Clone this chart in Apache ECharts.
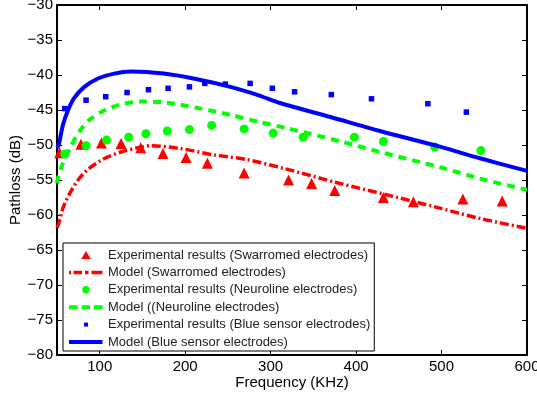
<!DOCTYPE html>
<html>
<head>
<meta charset="utf-8">
<script src="https://cdn.jsdelivr.net/npm/echarts@6/dist/echarts.min.js"></script>
<style>
  html, body { margin: 0; padding: 0; background: #fff; }
  #chart { width: 537px; height: 396px; }
</style>
</head>
<body>
<div id="chart"></div>
<script>
// measured values (frequency in kHz, pathloss in dB)
const xTicks = [100, 200, 300, 400, 500, 600];

const swarExpX = [53, 78, 102, 125, 148, 174, 201, 226, 269, 321, 348, 375, 432, 467, 525, 571];
const swarExpY = [-51.1, -49.9, -49.7, -49.8, -50.4, -51.2, -51.8, -52.6, -54.0, -55.0, -55.5, -56.5, -57.5, -58.1, -57.7, -58.0];

const swarModX = [50, 52, 57, 65, 76, 88, 106, 125, 148, 159, 194, 233, 273, 317, 378, 432, 491, 545, 600];
const swarModY = [-61.8, -61.2, -59.0, -56.9, -54.8, -53.3, -51.9, -51.0, -50.3, -50.1, -50.5, -51.4, -52.1, -53.4, -55.4, -57.0, -58.8, -60.5, -61.9];

const neuroExpX = [59, 84, 108, 134, 154, 179, 205, 231, 269, 303, 338, 398, 432, 492, 546];
const neuroExpY = [-51.3, -50.1, -49.3, -48.9, -48.4, -48.0, -47.8, -47.2, -47.7, -48.3, -48.9, -48.9, -49.5, -50.3, -50.8];

const neuroModX = [50, 51, 56, 65, 76, 88, 106, 125, 148, 175, 214, 253, 286, 319, 382, 428, 499, 545, 600];
const neuroModY = [-55.5, -54.8, -52.9, -50.5, -48.1, -46.4, -45.0, -44.2, -43.8, -43.9, -44.7, -45.7, -46.7, -47.6, -49.5, -51.0, -53.2, -54.8, -56.4];

const blueExpX = [59, 84, 107, 132, 157, 180, 205, 223, 247, 276, 302, 328, 371, 418, 484, 529];
const blueExpY = [-44.8, -43.6, -43.1, -42.5, -42.1, -41.9, -41.7, -41.2, -41.3, -41.2, -41.9, -42.4, -42.8, -43.4, -44.1, -45.3];

const blueModX = [50, 52, 57, 63, 70, 82, 98, 117, 136, 175, 214, 253, 286, 311, 370, 428, 500, 545, 600];
const blueModY = [-50.4, -50.0, -47.1, -45.0, -43.3, -41.7, -40.5, -39.8, -39.5, -39.8, -40.6, -41.7, -42.9, -44.0, -46.0, -48.0, -50.3, -51.9, -53.7];

const names = [
    'Experimental results (Swarromed electrodes)',
    'Model (Swarromed electrodes)',
    'Experimental results (Neuroline electrodes)',
    'Model ((Neuroline electrodes)',
    'Experimental results (Blue sensor electrodes)',
    'Model (Blue sensor electrodes)'
];

const zip = (xs, ys) => xs.map((x, i) => [x, ys[i]]);
const FONT = 'Liberation Sans, Arial, Helvetica, sans-serif';
const minus = v => String(v).replace('-', '\u2212');

const RED = '#ff0000', GREEN = '#00ff00', BLUE = '#0000ff';

// legend icons, drawn in a 34x11 box so they are not stretched
const BOX = 'path://M0,0M34,11';
const iconTriangle = BOX + 'M17,1.5L21.8,9.5L12.2,9.5Z';
const iconCircle = BOX + 'M13.3,5.5a3.7,3.7 0 1,0 7.4,0a3.7,3.7 0 1,0 -7.4,0Z';
const iconSquare = BOX + 'M15,3.5h4v4h-4Z';
const iconDashDot = BOX + 'M0,3.8h2v3.5h-2ZM4.5,3.8h8.5v3.5h-8.5ZM16,3.8h3.5v3.5h-3.5ZM22.5,3.8h11v3.5h-11Z';
const iconDashed = BOX + 'M0,3.5h8.7v4h-8.7ZM12.7,3.5h8.3v4h-8.3ZM25,3.5h8.5v4h-8.5Z';
const iconSolid = BOX + 'M0,3.5h33.5v4h-33.5Z';

const chart = echarts.init(document.getElementById('chart'), null, { renderer: 'canvas' });

const frameAxis = {
    axisLine: { show: true, onZero: false, lineStyle: { color: '#000', width: 2 } },
    splitLine: { show: false },
};

chart.setOption({
    animation: false,
    backgroundColor: '#fff',
    textStyle: { fontFamily: FONT, color: '#000' },
    grid: { left: 57, right: 10, top: 5, bottom: 41, containLabel: false, outerBoundsMode: 'none' },
    legend: {
        orient: 'vertical',
        left: 63,
        top: 243,
        backgroundColor: '#fff',
        borderColor: '#000',
        borderWidth: 1,
        borderRadius: 0,
        padding: [5.5, 4, 2.5, 6],
        itemWidth: 34,
        itemHeight: 11,
        itemGap: 4.4,
        symbolKeepAspect: true,
        textStyle: { fontFamily: FONT, fontSize: 13, color: '#222' },
        data: [
            { name: names[0], icon: iconTriangle },
            { name: names[1], icon: iconDashDot },
            { name: names[2], icon: iconCircle },
            { name: names[3], icon: iconDashed },
            { name: names[4], icon: iconSquare },
            { name: names[5], icon: iconSolid }
        ]
    },
    xAxis: [
        Object.assign({
            type: 'value', min: 50, max: 600, position: 'bottom',
            name: 'Frequency (KHz)', nameLocation: 'middle', nameGap: 20, nameMoveOverlap: false,
            nameTextStyle: { fontFamily: FONT, fontSize: 15, color: '#000' },
            axisTick: { show: true, inside: true, length: 5, customValues: xTicks, lineStyle: { color: '#000', width: 1 } },
            axisLabel: { customValues: xTicks, fontFamily: FONT, fontSize: 15, color: '#000', margin: 4 }
        }, frameAxis),
        Object.assign({
            type: 'value', min: 50, max: 600, position: 'top',
            axisTick: { show: true, inside: true, length: 5, customValues: xTicks, lineStyle: { color: '#000', width: 1 } },
            axisLabel: { show: false }
        }, frameAxis)
    ],
    yAxis: [
        Object.assign({
            type: 'value', min: -80, max: -30, interval: 5, position: 'left',
            name: 'Pathloss (dB)', nameLocation: 'middle', nameGap: 34, nameMoveOverlap: false,
            nameTextStyle: { fontFamily: FONT, fontSize: 15, color: '#000' },
            axisTick: { show: true, inside: true, length: 5, lineStyle: { color: '#000', width: 1 } },
            axisLabel: { formatter: minus, fontFamily: FONT, fontSize: 15, color: '#000', margin: 4 }
        }, frameAxis),
        Object.assign({
            type: 'value', min: -80, max: -30, interval: 5, position: 'right',
            axisTick: { show: true, inside: true, length: 5, lineStyle: { color: '#000', width: 1 } },
            axisLabel: { show: false }
        }, frameAxis)
    ],
    series: [
        {
            name: names[0], type: 'scatter', data: zip(swarExpX, swarExpY),
            symbol: 'triangle', symbolSize: 11, itemStyle: { color: RED, opacity: 1 }, z: 3
        },
        {
            name: names[1], type: 'line', data: zip(swarModX, swarModY),
            showSymbol: false, symbol: 'none', smooth: 0.3,
            lineStyle: { color: RED, width: 3.5, type: [9, 3, 2, 3] },
            itemStyle: { color: RED }, z: 2
        },
        {
            name: names[2], type: 'scatter', data: zip(neuroExpX, neuroExpY),
            symbol: 'circle', symbolSize: 9, itemStyle: { color: GREEN, opacity: 1 }, z: 3
        },
        {
            name: names[3], type: 'line', data: zip(neuroModX, neuroModY),
            showSymbol: false, symbol: 'none', smooth: 0.3,
            lineStyle: { color: GREEN, width: 4, type: [8, 6] },
            itemStyle: { color: GREEN }, z: 2
        },
        {
            name: names[4], type: 'scatter', data: zip(blueExpX, blueExpY),
            symbol: 'rect', symbolSize: 5.5, itemStyle: { color: BLUE, opacity: 1 }, z: 3
        },
        {
            name: names[5], type: 'line', data: zip(blueModX, blueModY),
            showSymbol: false, symbol: 'none', smooth: 0.3,
            lineStyle: { color: BLUE, width: 4, type: 'solid' },
            itemStyle: { color: BLUE }, z: 4
        }
    ]
});
</script>
</body>
</html>
